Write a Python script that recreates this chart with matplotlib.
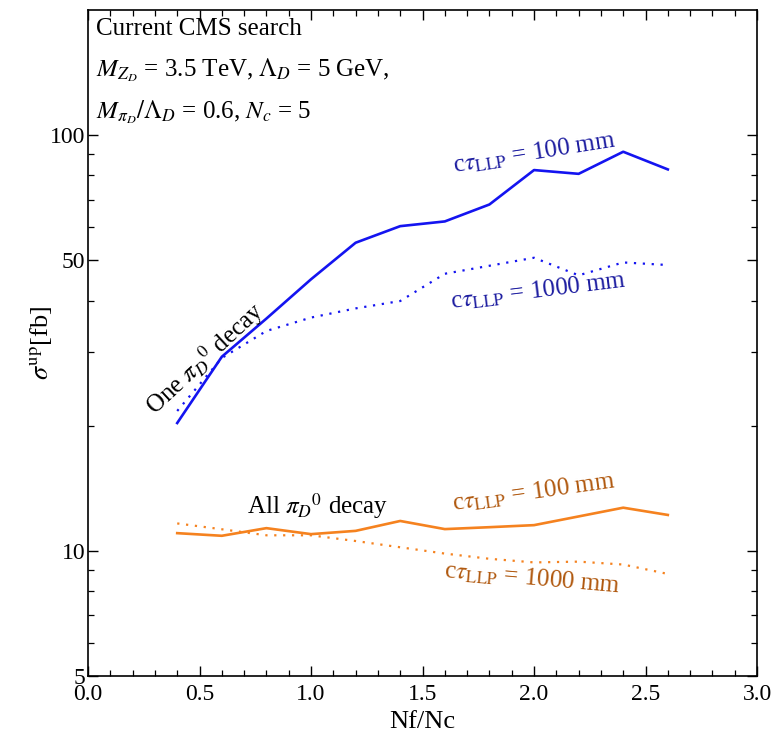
import numpy as np
import matplotlib
matplotlib.use("Agg")
import matplotlib.pyplot as plt
from matplotlib.ticker import FixedLocator, FixedFormatter, MultipleLocator, NullFormatter, FormatStrFormatter

plt.rcParams['font.family'] = ['Liberation Serif', 'DejaVu Serif']
plt.rcParams['mathtext.fontset'] = 'stix'

# Nf/Nc grid and cross-section upper limits [fb]
nf_nc = [0.4, 0.6, 0.8, 1.0, 1.2, 1.4, 1.6, 1.8, 2.0, 2.2, 2.4, 2.6]
one_100 = [20.3, 29.3, 36.2, 45.0, 55.1, 60.4, 62.0, 68.1, 82.4, 80.7, 91.2, 82.7]
one_1000 = [21.7, 29.1, 33.8, 36.4, 38.3, 39.9, 46.4, 48.5, 50.7, 46.0, 49.4, 48.7]
all_100 = [11.03, 10.87, 11.34, 10.97, 11.17, 11.8, 11.28, 11.4, 11.53, 12.1, 12.7, 12.2]
all_1000 = [11.64, 11.27, 10.9, 10.9, 10.56, 10.2, 9.85, 9.57, 9.38, 9.42, 9.27, 8.8]

y_major = [5, 10, 50, 100]
y_minor = [6, 7, 8, 9, 20, 30, 40, 60, 70, 80, 90]

blue = '#1414f0'
blue_txt = '#1c1ca0'
orange = '#f5821f'
orange_txt = '#b0580e'

fs = 18

fig = plt.figure(figsize=(7.72, 7.44), dpi=100)
ax = fig.add_axes([0.114, 0.0914, 0.8666, 0.8952])

ax.plot(nf_nc, one_100, color=blue, lw=1.9)
ax.plot(nf_nc, one_1000, color=blue, lw=1.6, ls=(0, (1, 3)))
ax.plot(nf_nc, all_100, color=orange, lw=1.9)
ax.plot(nf_nc, all_1000, color=orange, lw=1.6, ls=(0, (1, 3)))

ax.set_yscale('log')
ax.set_xlim(0, 3)
ax.set_ylim(5, 200)
ax.yaxis.set_major_locator(FixedLocator(y_major))
ax.yaxis.set_minor_locator(FixedLocator(y_minor))
ax.yaxis.set_major_formatter(FixedFormatter([str(v) for v in y_major]))
ax.yaxis.set_minor_formatter(NullFormatter())
ax.xaxis.set_major_locator(MultipleLocator(0.5))
ax.xaxis.set_minor_locator(MultipleLocator(0.1))
ax.xaxis.set_major_formatter(FormatStrFormatter('%.1f'))

ax.tick_params(which='both', direction='in', top=True, right=True, labelsize=17)
ax.tick_params(axis='y', pad=2)
ax.tick_params(axis='x', pad=6)
ax.tick_params(which='major', length=7, width=1.0)
ax.tick_params(which='minor', length=4, width=0.9)
for s in ax.spines.values():
    s.set_linewidth(1.2)

ax.set_xlabel('Nf/Nc', fontsize=19, labelpad=4)
ax.set_ylabel(r'$\sigma^{\rm up}$[fb]', fontsize=19, labelpad=-3)

# header text
ax.text(0.012, 0.988, 'Current CMS search', transform=ax.transAxes,
        fontsize=fs, va='top', ha='left')
ax.text(0.012, 0.93, r'$M_{Z_D}$ = 3.5 TeV, $\Lambda_D$ = 5 GeV,', transform=ax.transAxes,
        fontsize=fs, va='top', ha='left')
ax.text(0.012, 0.867, r'$M_{\pi_D}/\Lambda_D$ = 0.6, $N_c$ = 5', transform=ax.transAxes,
        fontsize=fs, va='top', ha='left')

# curve labels
ax.text(2.0, 90.5, r'c$\tau_{\rm LLP}$ = 100 mm', color=blue_txt, fontsize=fs,
        rotation=9, ha='center', va='center')
ax.text(2.02, 42.2, r'c$\tau_{\rm LLP}$ = 1000 mm', color=blue_txt, fontsize=fs,
        rotation=7, ha='center', va='center')
ax.text(0.525, 29.0, r'One $\pi_D{}^0$ decay', color='black', fontsize=fs,
        rotation=43, ha='center', va='center')
ax.text(1.03, 12.8, r'All $\pi_D{}^0$ decay', color='black', fontsize=fs,
        ha='center', va='center')
ax.text(2.0, 13.8, r'c$\tau_{\rm LLP}$ = 100 mm', color=orange_txt, fontsize=fs,
        rotation=8, ha='center', va='center')
ax.text(1.99, 8.57, r'c$\tau_{\rm LLP}$ = 1000 mm', color=orange_txt, fontsize=fs,
        rotation=-5, ha='center', va='center')

fig.savefig('out.png', dpi=100)
